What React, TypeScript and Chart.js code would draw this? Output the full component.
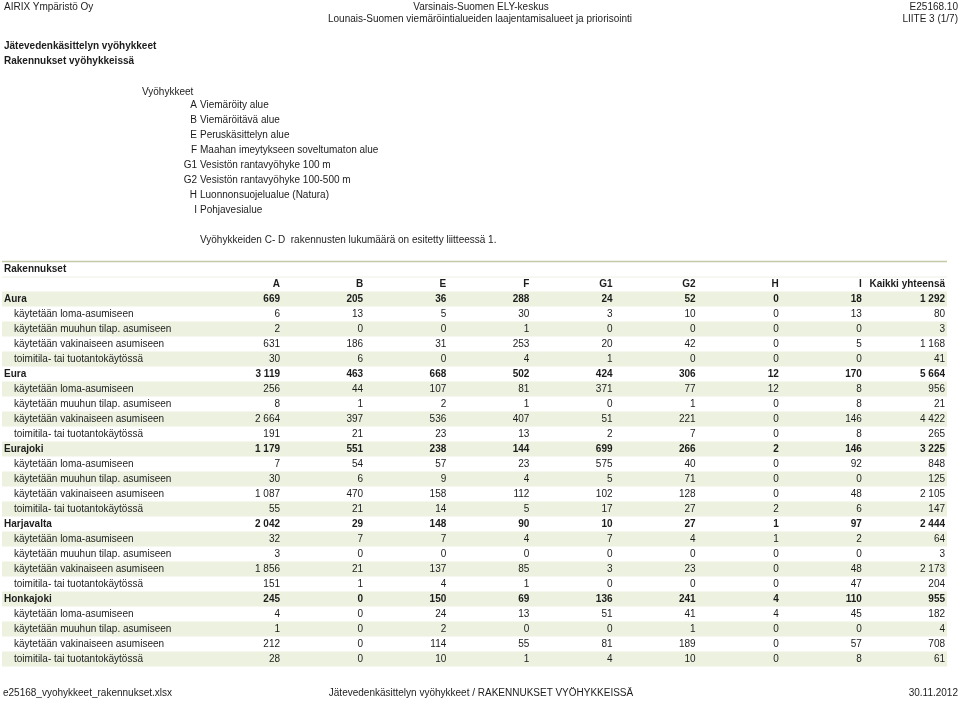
import React, { useEffect, useRef } from 'react';
import { Chart, registerables } from 'chart.js';

Chart.register(...registerables);

// ---------- data ----------
const columns = ['A', 'B', 'E', 'F', 'G1', 'G2', 'H', 'I', 'Kaikki yhteensä'];
const municipalities = ['Aura', 'Eura', 'Eurajoki', 'Harjavalta', 'Honkajoki'];
const useTypes = [
  'käytetään loma-asumiseen',
  'käytetään muuhun tilap. asumiseen',
  'käytetään vakinaiseen asumiseen',
  'toimitila- tai tuotantokäytössä',
];

// each: [total, loma, muuhun tilap., vakinainen, toimitila]
const auraValues = [
  [669, 205, 36, 288, 24, 52, 0, 18, 1292],
  [6, 13, 5, 30, 3, 10, 0, 13, 80],
  [2, 0, 0, 1, 0, 0, 0, 0, 3],
  [631, 186, 31, 253, 20, 42, 0, 5, 1168],
  [30, 6, 0, 4, 1, 0, 0, 0, 41],
];
const euraValues = [
  [3119, 463, 668, 502, 424, 306, 12, 170, 5664],
  [256, 44, 107, 81, 371, 77, 12, 8, 956],
  [8, 1, 2, 1, 0, 1, 0, 8, 21],
  [2664, 397, 536, 407, 51, 221, 0, 146, 4422],
  [191, 21, 23, 13, 2, 7, 0, 8, 265],
];
const eurajokiValues = [
  [1179, 551, 238, 144, 699, 266, 2, 146, 3225],
  [7, 54, 57, 23, 575, 40, 0, 92, 848],
  [30, 6, 9, 4, 5, 71, 0, 0, 125],
  [1087, 470, 158, 112, 102, 128, 0, 48, 2105],
  [55, 21, 14, 5, 17, 27, 2, 6, 147],
];
const harjavaltaValues = [
  [2042, 29, 148, 90, 10, 27, 1, 97, 2444],
  [32, 7, 7, 4, 7, 4, 1, 2, 64],
  [3, 0, 0, 0, 0, 0, 0, 0, 3],
  [1856, 21, 137, 85, 3, 23, 0, 48, 2173],
  [151, 1, 4, 1, 0, 0, 0, 47, 204],
];
const honkajokiValues = [
  [245, 0, 150, 69, 136, 241, 4, 110, 955],
  [4, 0, 24, 13, 51, 41, 4, 45, 182],
  [1, 0, 2, 0, 0, 1, 0, 0, 4],
  [212, 0, 114, 55, 81, 189, 0, 57, 708],
  [28, 0, 10, 1, 4, 10, 0, 8, 61],
];
const allValues = [auraValues, euraValues, eurajokiValues, harjavaltaValues, honkajokiValues];

const zoneCodes = ['A', 'B', 'E', 'F', 'G1', 'G2', 'H', 'I'];
const zoneNames = [
  'Viemäröity alue',
  'Viemäröitävä alue',
  'Peruskäsittelyn alue',
  'Maahan imeytykseen soveltumaton alue',
  'Vesistön rantavyöhyke 100 m',
  'Vesistön rantavyöhyke 100-500 m',
  'Luonnonsuojelualue (Natura)',
  'Pohjavesialue',
];

const FONT = '"Liberation Sans", Arial, Helvetica, sans-serif';
const TEXT = '#1c1c1c';
const STRIPE = '#edf2e0';
const RULE = '#c4caa6';

type Row = { label: string; bold: boolean; indent: boolean; values: number[] | null; kind: string };

function buildRows(): Row[] {
  const rows: Row[] = [
    { label: 'Rakennukset', bold: true, indent: false, values: null, kind: 'title' },
    { label: '', bold: true, indent: false, values: null, kind: 'header' },
  ];
  municipalities.forEach((m, mi) => {
    rows.push({ label: m, bold: true, indent: false, values: allValues[mi][0], kind: 'data' });
    useTypes.forEach((u, ui) => {
      rows.push({ label: u, bold: false, indent: true, values: allValues[mi][ui + 1], kind: 'data' });
    });
  });
  return rows;
}

const fmt = (n: number) => String(n).replace(/\B(?=(\d{3})+(?!\d))/g, ' ');

export default function App() {
  const ref = useRef<HTMLCanvasElement>(null);

  useEffect(() => {
    const rows = buildRows();
    const datasets = columns.map((c, ci) => ({
      label: c,
      data: rows
        .map((r, ri) => (r.values ? { x: ci, y: ri, v: r.values[ci], b: r.bold } : null))
        .filter((p) => p !== null),
      pointRadius: 0,
      pointHoverRadius: 0,
      showLine: false,
    }));

    const tablePlugin = {
      id: 'tablePlugin',
      beforeDraw(chart: any) {
        const { ctx, scales } = chart;
        const y = scales.y;
        ctx.save();
        ctx.fillStyle = '#ffffff';
        ctx.fillRect(0, 0, chart.width, chart.height);
        const rowH = Math.abs(y.getPixelForValue(1) - y.getPixelForValue(0));
        // stripes
        let dataIdx = 0;
        rows.forEach((r, ri) => {
          if (r.kind !== 'data') return;
          if (dataIdx % 2 === 0) {
            const py = y.getPixelForValue(ri);
            ctx.fillStyle = STRIPE;
            ctx.fillRect(2, py - rowH / 2, 945, rowH);
          }
          dataIdx++;
        });
        // rules
        const top = y.getPixelForValue(-0.5);
        ctx.strokeStyle = RULE;
        ctx.lineWidth = 1.5;
        ctx.beginPath();
        ctx.moveTo(2, top);
        ctx.lineTo(947, top);
        ctx.stroke();
        ctx.strokeStyle = '#eef0e4';
        ctx.lineWidth = 1;
        ctx.beginPath();
        ctx.moveTo(2, top + rowH + 0.5);
        ctx.lineTo(947, top + rowH + 0.5);
        ctx.stroke();
        ctx.restore();
      },
      afterDraw(chart: any) {
        const { ctx, scales } = chart;
        const x = scales.x;
        const y = scales.y;
        ctx.save();
        ctx.fillStyle = TEXT;
        ctx.textBaseline = 'middle';
        // row labels
        rows.forEach((r, ri) => {
          if (!r.label) return;
          ctx.font = `${r.bold ? 'bold ' : ''}10px ${FONT}`;
          ctx.textAlign = 'left';
          ctx.fillText(r.label, r.indent ? 14 : 4, y.getPixelForValue(ri));
        });
        // column headers
        const headerRow = rows.findIndex((r) => r.kind === 'header');
        ctx.font = `bold 10px ${FONT}`;
        ctx.textAlign = 'right';
        columns.forEach((c, ci) => {
          ctx.fillText(c, x.getPixelForValue(ci), y.getPixelForValue(headerRow));
        });
        // cells
        chart.data.datasets.forEach((ds: any, di: number) => {
          const meta = chart.getDatasetMeta(di);
          meta.data.forEach((el: any, j: number) => {
            const p = ds.data[j];
            ctx.font = `${p.b ? 'bold ' : ''}10px ${FONT}`;
            ctx.textAlign = 'right';
            ctx.fillText(fmt(p.v), el.x, el.y);
          });
        });
        ctx.restore();
      },
    };

    const chart = new Chart(ref.current!, {
      type: 'scatter',
      data: { datasets: datasets as any },
      options: {
        animation: false,
        responsive: false,
        events: [],
        layout: { padding: { left: 280, right: 15, top: 261.5, bottom: 39.5 } },
        plugins: { legend: { display: false }, tooltip: { enabled: false } },
        scales: {
          x: { type: 'linear', min: 0, max: columns.length - 1, display: false },
          y: { type: 'linear', min: -0.5, max: rows.length - 0.5, reverse: true, display: false },
        },
      },
      plugins: [tablePlugin],
    });
    return () => chart.destroy();
  }, []);

  const txt: React.CSSProperties = {
    position: 'absolute',
    fontFamily: FONT,
    fontSize: '10px',
    lineHeight: '12px',
    color: TEXT,
    whiteSpace: 'nowrap',
  };

  return (
    <div style={{ position: 'relative', width: 960, height: 706, background: '#fff', overflow: 'hidden' }}>
      <style>{`body{margin:0}`}</style>
      <canvas ref={ref} width={960} height={706} style={{ position: 'absolute', left: 0, top: 0, width: 960, height: 706 }} />
      <div style={{ ...txt, left: 4, top: 1 }}>AIRIX Ympäristö Oy</div>
      <div style={{ ...txt, left: 0, width: 962, textAlign: 'center', top: 1 }}>Varsinais-Suomen ELY-keskus</div>
      <div style={{ ...txt, left: 0, width: 960, textAlign: 'center', top: 12.5 }}>
        Lounais-Suomen viemäröintialueiden laajentamisalueet ja priorisointi
      </div>
      <div style={{ ...txt, right: 2, top: 1, textAlign: 'right' }}>E25168.10</div>
      <div style={{ ...txt, right: 2, top: 12.5, textAlign: 'right' }}>LIITE 3 (1/7)</div>

      <div style={{ ...txt, left: 4, top: 40, fontWeight: 'bold' }}>Jätevedenkäsittelyn vyöhykkeet</div>
      <div style={{ ...txt, left: 4, top: 55, fontWeight: 'bold' }}>Rakennukset vyöhykkeissä</div>

      <div style={{ ...txt, left: 142, top: 86 }}>Vyöhykkeet</div>
      {zoneCodes.map((z, i) => (
        <React.Fragment key={z}>
          <div style={{ ...txt, left: 150, width: 47, textAlign: 'right', top: 99 + i * 15 }}>{z}</div>
          <div style={{ ...txt, left: 200, top: 99 + i * 15 }}>{zoneNames[i]}</div>
        </React.Fragment>
      ))}
      <div style={{ ...txt, left: 200, top: 234 }}>
        Vyöhykkeiden C- D&nbsp; rakennusten lukumäärä on esitetty liitteessä 1.
      </div>

      <div style={{ ...txt, left: 3, top: 687 }}>e25168_vyohykkeet_rakennukset.xlsx</div>
      <div style={{ ...txt, left: 0, width: 962, textAlign: 'center', top: 687 }}>
        Jätevedenkäsittelyn vyöhykkeet / RAKENNUKSET VYÖHYKKEISSÄ
      </div>
      <div style={{ ...txt, right: 2, top: 687, textAlign: 'right' }}>30.11.2012</div>
    </div>
  );
}
